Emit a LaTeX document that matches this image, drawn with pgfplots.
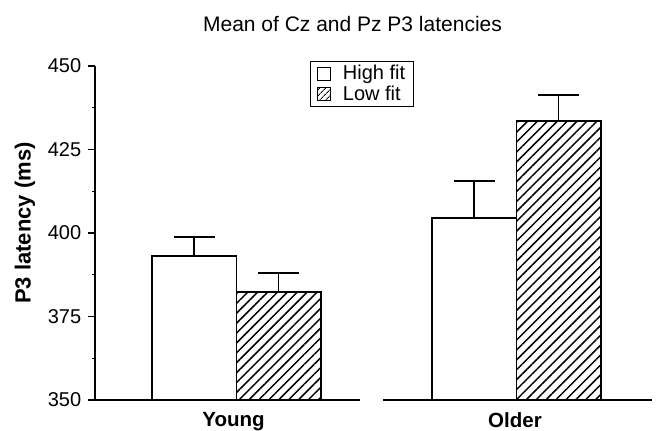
\documentclass[border=0pt]{standalone}
\usepackage{fontspec}
\setmainfont{Liberation Sans}
\usepackage{pgfplots}
\pgfplotsset{compat=1.18}
\usetikzlibrary{patterns.meta}
\begin{document}
\fontsize{20}{22}\selectfont
\begin{tikzpicture}
\path[use as bounding box] (0,0) rectangle (664pt,431pt);
\begin{axis}[
  at={(95pt,31pt)}, anchor=south west,
  scale only axis, width=557pt, height=334pt,
  xmin=95, xmax=652, ymin=350, ymax=450,
  clip=false,
  axis lines*=left,
  x axis line style={draw=none},
  axis line style={line width=1.5pt},
  xtick={233.5,515}, xticklabels={Young,Older},
  xtick style={draw=none},
  xticklabel style={font=\fontsize{20.5}{22}\selectfont\bfseries, yshift=1.5pt},
  ytick={350,375,400,425,450},
  minor ytick={362.5,387.5,412.5,437.5},
  tick align=outside,
  major tick length=7pt, minor tick length=3pt,
  ytick style={line width=1.3pt, black},
  /pgf/number format/assume math mode=true,
  yticklabel style={font=\fontsize{20}{22}\selectfont},
  legend style={at={(axis cs:310,451.5)}, anchor=north west, draw=black, line width=1.2pt,
    font=\fontsize{20}{18}\selectfont, row sep=-1pt, column sep=10pt, inner sep=1.5pt, inner xsep=6pt, cells={anchor=west}},
  legend cell align=left,
]
\addplot[ybar, bar width=84.5, bar shift=0pt, draw=black, fill=white, line width=1.5pt,
  legend image code/.code={\draw[draw=black, fill=white, line width=1.3pt] (0pt,-6.5pt) rectangle (13pt,6.5pt);},
  error bars/.cd, y dir=plus, y explicit,
  error bar style={line width=1.5pt, black},
  error mark options={rotate=90, mark size=20.5pt, line width=1.5pt, black}]
  coordinates {(194,393.1) +- (0,5.7) (474,404.5) +- (0,11.1)};
\addlegendentry{High fit}
\addplot[ybar, bar width=84.5, bar shift=0pt, draw=black, line width=1.5pt,
  pattern={Lines[angle=45,distance=7pt,line width=1.5pt]}, pattern color=black,
  legend image code/.code={\draw[draw=black, line width=1.3pt, pattern={Lines[angle=45,distance=4pt,line width=1pt]}] (0pt,-6.5pt) rectangle (13pt,6.5pt);},
  error bars/.cd, y dir=plus, y explicit,
  error bar style={line width=1.5pt, black},
  error mark options={rotate=90, mark size=20.5pt, line width=1.5pt, black}]
  coordinates {(278.5,382.3) +- (0,5.7) (558.5,433.5) +- (0,7.8)};
\addlegendentry{Low fit}
\draw[line width=1.5pt] (axis cs:95,350) -- (axis cs:360,350);
\draw[line width=1.5pt] (axis cs:383,350) -- (axis cs:652,350);
\end{axis}
\node[anchor=base, font=\fontsize{21}{24}\selectfont] at (352.5pt,399pt) {Mean of Cz and Pz P3 latencies};
\node[rotate=90, font=\fontsize{22}{24}\selectfont\bfseries] at (25pt,208pt) {P3 latency (ms)};
\end{tikzpicture}
\end{document}
